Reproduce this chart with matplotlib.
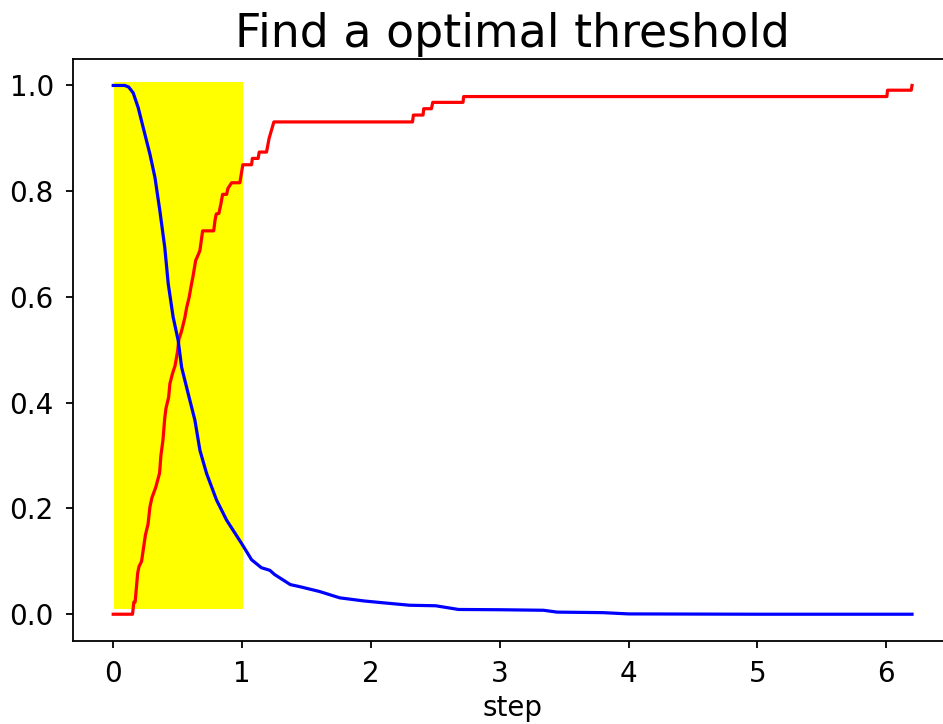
import matplotlib
matplotlib.use("Agg")
import matplotlib.pyplot as plt
from matplotlib.patches import Rectangle

# ---- data ----
red_x = [0.0, 0.15, 0.16, 0.17, 0.19, 0.20, 0.22, 0.25, 0.27, 0.285, 0.30, 0.33,
         0.36, 0.37, 0.386, 0.40, 0.41, 0.43, 0.44, 0.46, 0.48, 0.50, 0.51, 0.53,
         0.556, 0.57, 0.59, 0.608, 0.62, 0.64, 0.66, 0.673, 0.694, 0.78, 0.79,
         0.80, 0.82, 0.835, 0.849, 0.88, 0.89, 0.919, 0.983, 1.006, 1.074, 1.08,
         1.125, 1.133, 1.19, 1.21, 1.247, 2.323, 2.33, 2.405, 2.41, 2.47, 2.48,
         2.715, 2.72, 6.005, 6.01, 6.194, 6.20]
red_y = [0.0, 0.0, 0.023, 0.023, 0.078, 0.09, 0.10, 0.15, 0.17, 0.203, 0.22, 0.24,
         0.267, 0.30, 0.329, 0.371, 0.39, 0.41, 0.436, 0.455, 0.47, 0.498, 0.52, 0.535,
         0.561, 0.58, 0.60, 0.625, 0.64, 0.669, 0.68, 0.688, 0.725, 0.725, 0.745,
         0.757, 0.758, 0.775, 0.794, 0.794, 0.805, 0.816, 0.816, 0.850, 0.850, 0.862,
         0.862, 0.874, 0.874, 0.90, 0.931, 0.931, 0.944, 0.944, 0.956, 0.956, 0.968,
         0.968, 0.979, 0.979, 0.991, 0.991, 1.0]

blue_x = [0.0, 0.09, 0.12, 0.155, 0.194, 0.233, 0.285, 0.324, 0.362, 0.40, 0.427,
          0.465, 0.504, 0.531, 0.582, 0.634, 0.673, 0.725, 0.802, 0.88, 0.996,
          1.074, 1.15, 1.216, 1.253, 1.375, 1.45, 1.601, 1.758, 1.95, 2.123, 2.30,
          2.503, 2.68, 3.0, 3.34, 3.445, 3.8, 4.0, 5.0, 6.2]
blue_y = [1.0, 1.0, 0.997, 0.986, 0.958, 0.920, 0.870, 0.826, 0.763, 0.694, 0.625,
          0.562, 0.518, 0.467, 0.417, 0.367, 0.310, 0.266, 0.216, 0.178, 0.134,
          0.103, 0.088, 0.083, 0.075, 0.056, 0.052, 0.043, 0.031, 0.025, 0.021,
          0.017, 0.016, 0.009, 0.0085, 0.0075, 0.004, 0.003, 0.0006, 0.0, 0.0]

span_x = [0.01, 1.01]
span_y = [0.01, 1.006]

x_ticks = [0, 1, 2, 3, 4, 5, 6]
y_ticks = [0.0, 0.2, 0.4, 0.6, 0.8, 1.0]

# ---- figure ----
fig = plt.figure(figsize=(9.43, 7.24), dpi=100)
ax = fig.add_axes([0.0777, 0.1151, 0.9318, 0.8034])

ax.add_patch(Rectangle((span_x[0], span_y[0]), span_x[1] - span_x[0],
                       span_y[1] - span_y[0], facecolor='yellow', edgecolor='none',
                       zorder=1))
ax.plot(red_x, red_y, color='red', lw=2.3, zorder=2)
ax.plot(blue_x, blue_y, color='blue', lw=2.3, zorder=3)

ax.set_xlim(-0.31, 6.51)
ax.set_ylim(-0.05, 1.05)
ax.set_xticks(x_ticks)
ax.set_yticks(y_ticks)
ax.set_yticklabels([f"{v:.1f}" for v in y_ticks])
ax.tick_params(labelsize=20, length=5, width=1.3, pad=9)
for s in ax.spines.values():
    s.set_linewidth(1.3)

ax.set_xlabel("step", fontsize=20, labelpad=4)
ax.set_title("Find a optimal threshold", fontsize=33, pad=9)

fig.savefig("out.png", dpi=100)
